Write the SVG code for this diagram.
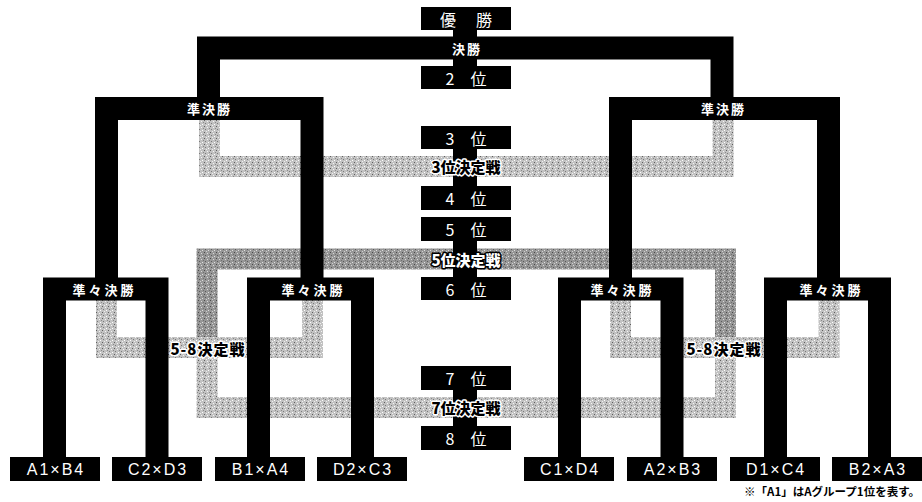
<svg xmlns="http://www.w3.org/2000/svg" width="922" height="502" viewBox="0 0 922 502">
  <defs>
    <pattern id="lightTex" width="6" height="6" patternUnits="userSpaceOnUse">
      <rect width="6" height="6" fill="#c2c2c2"/>
      <rect x="0" y="0" width="1" height="1" fill="#5e5e5e"/>
      <rect x="3" y="1" width="1" height="1" fill="#f4f4f4"/>
      <rect x="1" y="3" width="1" height="1" fill="#7a7a7a"/>
      <rect x="4" y="4" width="1" height="1" fill="#ffffff"/>
      <rect x="5" y="2" width="1" height="1" fill="#8a8a8a"/>
      <rect x="2" y="5" width="1" height="1" fill="#eeeeee"/>
    </pattern>
    <pattern id="darkTex" width="6" height="6" patternUnits="userSpaceOnUse">
      <rect width="6" height="6" fill="#969696"/>
      <rect x="0" y="0" width="1" height="1" fill="#4a4a4a"/>
      <rect x="3" y="1" width="1" height="1" fill="#d8d8d8"/>
      <rect x="1" y="3" width="1" height="1" fill="#5a5a5a"/>
      <rect x="4" y="4" width="1" height="1" fill="#e0e0e0"/>
      <rect x="5" y="2" width="1" height="1" fill="#707070"/>
      <rect x="2" y="5" width="1" height="1" fill="#cfcfcf"/>
    </pattern>
  </defs>
  <style>
    .bk { fill: none; stroke: #000; stroke-width: 23; stroke-linejoin: miter; stroke-linecap: butt; }
    .lg { fill: none; stroke: url(#lightTex); stroke-width: 21; stroke-linejoin: miter; stroke-linecap: butt; }
    .dg { fill: none; stroke: url(#darkTex); stroke-width: 21; stroke-linejoin: miter; stroke-linecap: butt; }
    .box { fill: #000; }
    .rank { fill: #fff; font-family: "Noto Sans CJK JP", sans-serif; font-size: 16px; text-anchor: middle; dominant-baseline: central; }
    .team { fill: #fff; font-family: "Liberation Sans", Arial, sans-serif; font-size: 16px; letter-spacing: 2px; text-anchor: middle; dominant-baseline: central; }
    .rnd { fill: #fff; font-family: "Noto Sans CJK JP", sans-serif; font-weight: bold; font-size: 13px; text-anchor: middle; dominant-baseline: central; }
    .ply { fill: #000; stroke: #fff; stroke-width: 3px; paint-order: stroke; stroke-linejoin: round; font-family: "Noto Sans CJK JP", sans-serif; font-weight: 900; font-size: 15px; text-anchor: middle; dominant-baseline: central; }
    .plyw { fill: #fff; stroke: #000; stroke-width: 3px; paint-order: stroke; stroke-linejoin: round; font-family: "Noto Sans CJK JP", sans-serif; font-weight: 900; font-size: 15px; text-anchor: middle; dominant-baseline: central; }
    .note { fill: #000; font-family: "Noto Sans CJK JP", sans-serif; font-weight: bold; font-size: 11.5px; text-anchor: end; }
  </style>

  <rect width="922" height="502" fill="#fff"/>

  <g id="connectors">
    <!-- loser (placement) paths -->
    <path class="lg" d="M209.5,112 V166.5 H723 V112"/>
    <path class="lg" d="M207,358 V407.5 H725.5 V358"/>
    <path class="dg" d="M207,338 V259 H725.5 V338"/>
    <path class="lg" d="M106.5,296 V347.5 H312.5 V296"/>
    <path class="lg" d="M620.5,296 V347.5 H829 V296"/>
    <!-- winner brackets -->
    <path class="bk" d="M208.5,110 V48 H722 V110"/>
    <path class="bk" d="M106.5,290 V108.5 H312 V290"/>
    <path class="bk" d="M620.5,290 V108.5 H828.5 V290"/>
    <path class="bk" d="M54.5,460 V289 H157 V460"/>
    <path class="bk" d="M258.5,460 V289 H362.5 V460"/>
    <path class="bk" d="M569.5,460 V289 H672 V460"/>
    <path class="bk" d="M775.5,460 V289 H879.5 V460"/>
    <!-- centre links between rank boxes -->
    <rect x="453" y="28" width="24" height="40" fill="#000"/>
    <rect x="453" y="147" width="24" height="40" fill="#000"/>
    <rect x="453" y="239" width="24" height="40" fill="#000"/>
    <rect x="453" y="388" width="24" height="40" fill="#000"/>
  </g>

  <g id="round-labels">
    <text class="rnd" x="467" y="48" letter-spacing="2">決勝</text>
    <text class="rnd" x="209.5" y="108.5" letter-spacing="2">準決勝</text>
    <text class="rnd" x="723.5" y="108.5" letter-spacing="2">準決勝</text>
    <text class="rnd" x="104.5" y="289" letter-spacing="3">準々決勝</text>
    <text class="rnd" x="313.5" y="289" letter-spacing="3">準々決勝</text>
    <text class="rnd" x="622.5" y="289" letter-spacing="3">準々決勝</text>
    <text class="rnd" x="831.5" y="289" letter-spacing="3">準々決勝</text>
  </g>

  <g id="playoff-3"><text class="ply" x="466" y="166.5">3位決定戦</text></g>
  <g id="playoff-5"><text class="plyw" x="466" y="259">5位決定戦</text></g>
  <g id="playoff-7"><text class="ply" x="466" y="407.5">7位決定戦</text></g>
  <g id="playoff-58-left"><text class="ply" x="208" y="348" letter-spacing="1">5-8決定戦</text></g>
  <g id="playoff-58-right"><text class="ply" x="724" y="348" letter-spacing="1">5-8決定戦</text></g>

  <g id="rank-1"><rect class="box" x="421" y="7" width="90" height="23"/><text class="rank" x="467" y="18.5" letter-spacing="2">優　勝</text></g>
  <g id="rank-2"><rect class="box" x="421" y="66" width="90" height="23"/><text class="rank" x="466" y="77.5">2　位</text></g>
  <g id="rank-3"><rect class="box" x="421" y="126" width="90" height="23"/><text class="rank" x="466" y="137.5">3　位</text></g>
  <g id="rank-4"><rect class="box" x="421" y="186" width="90" height="24"/><text class="rank" x="466" y="198">4　位</text></g>
  <g id="rank-5"><rect class="box" x="421" y="217" width="90" height="24"/><text class="rank" x="466" y="229">5　位</text></g>
  <g id="rank-6"><rect class="box" x="421" y="277" width="90" height="23"/><text class="rank" x="466" y="288.5">6　位</text></g>
  <g id="rank-7"><rect class="box" x="421" y="366" width="90" height="24"/><text class="rank" x="466" y="378">7　位</text></g>
  <g id="rank-8"><rect class="box" x="421" y="426" width="90" height="24"/><text class="rank" x="466" y="438">8　位</text></g>

  <g id="team-A1B4"><rect class="box" x="10" y="457" width="90" height="24"/><text class="team" x="56" y="469">A1×B4</text></g>
  <g id="team-C2D3"><rect class="box" x="112" y="457" width="90" height="24"/><text class="team" x="158" y="469">C2×D3</text></g>
  <g id="team-B1A4"><rect class="box" x="215" y="457" width="90" height="24"/><text class="team" x="261" y="469">B1×A4</text></g>
  <g id="team-D2C3"><rect class="box" x="317" y="457" width="90" height="24"/><text class="team" x="363" y="469">D2×C3</text></g>
  <g id="team-C1D4"><rect class="box" x="524" y="457" width="90" height="24"/><text class="team" x="570" y="469">C1×D4</text></g>
  <g id="team-A2B3"><rect class="box" x="627" y="457" width="90" height="24"/><text class="team" x="673" y="469">A2×B3</text></g>
  <g id="team-D1C4"><rect class="box" x="730" y="457" width="90" height="24"/><text class="team" x="776" y="469">D1×C4</text></g>
  <g id="team-B2A3"><rect class="box" x="832" y="457" width="90" height="24"/><text class="team" x="878" y="469">B2×A3</text></g>

  <g id="footnote"><text class="note" x="920" y="496">※「A1」はAグループ1位を表す。</text></g>
</svg>
